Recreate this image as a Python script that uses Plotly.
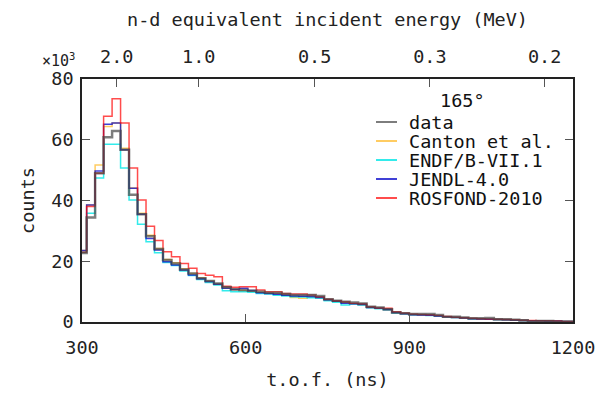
import plotly.graph_objects as go

# bin edges (ns): first bin partly clipped by the axis at 300 ns
bin_start = 308.5 - 15.55
bin_width = 15.55

data = [22.7, 34.4, 49.0, 60.8, 62.9, 56.7, 41.9, 35.5, 28.2, 24.0,
        20.4, 19.3, 17.3, 16.0, 14.4, 13.5, 12.7, 11.4, 10.8, 10.5,
        10.3, 10.0, 9.6, 9.6, 9.2, 8.9, 8.9, 8.9, 8.6, 7.5,
        7.0, 6.7, 6.4, 6.1, 5.0, 4.8, 4.2, 3.1, 2.9, 2.6,
        2.6, 2.6, 2.3, 1.7, 1.7, 1.5, 1.2, 1.2, 1.3, 0.9,
        0.9, 0.7, 0.6, 0.2, 0.3, 0.3, 0.1, 0.1, 0.1]
canton = [23.5, 38.5, 51.7, 64.4, 65.5, 57.2, 44.1, 35.8, 28.6, 24.2,
          20.6, 19.5, 17.5, 16.0, 14.6, 13.6, 12.6, 11.3, 10.6, 10.4,
          10.1, 9.8, 9.5, 9.3, 8.9, 8.1, 7.8, 8.2, 8.0, 7.3,
          6.8, 6.3, 6.0, 5.7, 4.8, 4.5, 4.1, 3.1, 2.7, 2.4,
          2.3, 2.2, 2.0, 1.7, 1.5, 1.3, 1.1, 1.0, 0.9, 0.8,
          0.7, 0.6, 0.5, 0.4, 0.4, 0.3, 0.3, 0.2, 0.2]
endf = [23.0, 35.8, 47.4, 58.5, 58.5, 50.7, 40.2, 32.2, 26.4, 22.8,
        19.6, 18.6, 16.8, 15.3, 14.0, 13.0, 12.2, 10.3, 10.0, 10.0,
        9.8, 9.4, 9.2, 8.8, 8.6, 8.3, 8.2, 8.0, 7.8, 7.0,
        6.5, 5.6, 5.9, 5.6, 4.7, 4.4, 4.0, 3.0, 2.7, 2.4,
        2.3, 2.1, 1.9, 1.7, 1.5, 1.3, 1.1, 1.0, 0.9, 0.8,
        0.7, 0.6, 0.5, 0.4, 0.4, 0.3, 0.3, 0.2, 0.2]
jendl = [23.5, 38.5, 49.7, 65.1, 65.5, 56.7, 44.0, 35.5, 27.5, 23.7,
         19.8, 18.8, 17.1, 15.5, 14.2, 13.3, 12.4, 11.1, 10.7, 11.1,
         10.4, 9.6, 9.4, 9.1, 8.8, 8.6, 8.5, 8.4, 8.1, 7.3,
         6.8, 6.2, 6.0, 5.8, 4.8, 4.5, 4.1, 3.1, 2.7, 2.4,
         2.3, 2.2, 2.0, 1.7, 1.5, 1.3, 1.1, 1.0, 0.9, 0.8,
         0.7, 0.6, 0.5, 0.4, 0.4, 0.3, 0.3, 0.2, 0.2]
rosfond = [23.0, 38.0, 49.0, 67.7, 73.5, 65.5, 50.7, 40.2, 31.5, 26.8,
           23.1, 21.5, 19.3, 17.7, 16.0, 15.4, 14.9, 11.8, 11.4, 11.6,
           11.6, 10.5, 10.0, 10.0, 9.4, 9.2, 9.2, 8.9, 8.3, 7.5,
           7.0, 6.7, 6.2, 6.0, 5.0, 4.6, 4.5, 3.4, 3.0, 2.6,
           2.5, 2.4, 2.1, 1.8, 1.6, 1.4, 1.2, 1.1, 1.0, 0.9,
           0.8, 0.7, 0.6, 0.5, 0.4, 0.4, 0.3, 0.2, 0.2]

series_names = ["data", "Canton et al.", "ENDF/B-VII.1", "JENDL-4.0", "ROSFOND-2010"]
series_vals = [data, canton, endf, jendl, rosfond]
series_colors = ["rgba(70,70,70,0.7)", "rgba(255,195,70,0.85)", "rgba(0,230,230,0.8)",
                 "rgba(0,0,200,0.75)", "rgba(255,0,0,0.7)"]
series_widths = [2.5, 1.5, 1.5, 1.5, 1.5]
legend_title = "165°"

energy_ticks = [2.0, 1.0, 0.5, 0.3, 0.2]
energy_labels = ["2.0", "1.0", "0.5", "0.3", "0.2"]
# t.o.f. corresponding to n-d equivalent energy: t = a/sqrt(E) + b
tof_a, tof_b = 513.0, 1.0
energy_tof = [tof_a / (e ** 0.5) + tof_b for e in energy_ticks]

y_ticks = [0, 20, 40, 60, 80]
x_ticks = [300, 600, 900, 1200]

FONT = "DejaVu Sans Mono"
TICK_SIZE = 18.5
TITLE_SIZE = 18.5
LEG_SIZE = 18.5

fig = go.Figure()
order = [1, 2, 3, 4, 0]
for i in order:
    vals = series_vals[i]
    xs = [bin_start + k * bin_width for k in range(len(vals) + 1)]
    ys = list(vals) + [vals[-1]]
    fig.add_trace(go.Scatter(x=xs, y=ys, mode="lines", line_shape="hv",
                             line=dict(color=series_colors[i], width=series_widths[i]),
                             name=series_names[i], showlegend=False))

# invisible trace for top axis
fig.add_trace(go.Scatter(x=[300, 1200], y=[0, 0], xaxis="x2", mode="lines",
                         line=dict(width=0), showlegend=False, hoverinfo="skip"))

# manual legend (layout in plot-area fractions)
PL, PW, PB, PH = 82, 491, 322, 243
def px2x(p):
    return (p - PL) / PW
def py2y(p):
    return (PB - p) / PH

annotations = [dict(text="×10<sup>3</sup>", xref="paper", yref="paper",
                    x=-0.01, y=1.0, xanchor="right", yanchor="bottom", yshift=7,
                    showarrow=False, font=dict(family=FONT, size=15, color="#222")),
               dict(text=legend_title, xref="paper", yref="paper",
                    x=px2x(462), y=py2y(100), xanchor="center", yanchor="middle",
                    showarrow=False, font=dict(family=FONT, size=LEG_SIZE, color="#111"))]
shapes = []
for j, name in enumerate(series_names):
    yc = 122 + 19 * j
    annotations.append(dict(text=name, xref="paper", yref="paper",
                            x=px2x(407), y=py2y(yc), xanchor="left", yanchor="middle",
                            showarrow=False,
                            font=dict(family=FONT, size=LEG_SIZE, color="#111")))
    shapes.append(dict(type="line", xref="paper", yref="paper",
                       x0=px2x(376), x1=px2x(397), y0=py2y(yc), y1=py2y(yc),
                       line=dict(color=series_colors[j], width=2)))

fig.update_layout(
    width=614, height=393,
    margin=dict(l=82, r=41, t=79, b=71, autoexpand=False),
    paper_bgcolor="white", plot_bgcolor="white",
    font=dict(family=FONT, size=TICK_SIZE, color="#222"),
    showlegend=False,
    xaxis=dict(range=[300, 1200], tickvals=x_ticks, ticks="inside", ticklen=8,
               tickcolor="#555", showline=True, linecolor="#222", linewidth=1.5,
               mirror=True, showgrid=False, zeroline=False, ticklabelstandoff=8,
               tickfont=dict(size=TICK_SIZE), automargin=False,
               title=dict(text="t.o.f. (ns)", standoff=16,
                          font=dict(size=TITLE_SIZE))),
    xaxis2=dict(range=[300, 1200], overlaying="x", side="top",
                tickvals=energy_tof, ticktext=energy_labels, ticks="inside",
                ticklen=8, tickcolor="#555", showgrid=False, zeroline=False,
                showline=False, ticklabelstandoff=11, tickfont=dict(size=TICK_SIZE),
                automargin=False,
                title=dict(text="n-d equivalent incident energy (MeV)", standoff=14,
                           font=dict(size=TITLE_SIZE))),
    yaxis=dict(range=[0, 80], tickvals=y_ticks, ticks="inside", ticklen=8,
               tickcolor="#555", showline=True, linecolor="#222", linewidth=1.5,
               mirror="ticks", showgrid=False, zeroline=False, ticklabelstandoff=3,
               tickfont=dict(size=TICK_SIZE), automargin=False,
               title=dict(text="counts", standoff=12, font=dict(size=TITLE_SIZE))),
    annotations=annotations,
    shapes=shapes,
)

fig.write_html("out.html")
